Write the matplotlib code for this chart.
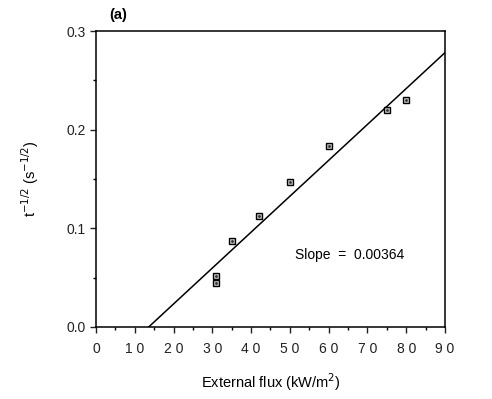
import matplotlib
matplotlib.use("Agg")
import matplotlib.pyplot as plt
import numpy as np
from matplotlib.ticker import MultipleLocator

plt.rcParams['font.family'] = ['Liberation Sans', 'DejaVu Sans']

flux = [31, 31, 35, 42, 50, 60, 75, 80]
tinv = [0.052, 0.045, 0.087, 0.112, 0.147, 0.183, 0.220, 0.230]
slope = 0.00364
x_intercept = 13.6
fit_x = [x_intercept, 90]
xticks = [0, 10, 20, 30, 40, 50, 60, 70, 80, 90]
yticks = [0.0, 0.1, 0.2, 0.3]

fig = plt.figure(figsize=(4.92, 3.99), dpi=100)
ax = fig.add_axes([0.195, 0.1805, 0.7095, 0.7418])

fit_y = [slope * (x - x_intercept) for x in fit_x]
ax.plot(fit_x, fit_y, color='black', lw=1.1)
ax.plot(flux, tinv, linestyle='none', marker='s', ms=5, mfc='#c8c8c8',
        mec='black', mew=1.0)
ax.plot(flux, tinv, linestyle='none', marker='.', ms=2, color='#333333')

ax.set_xlim(0, 90)
ax.set_ylim(0, 0.3)
ax.set_xticks(xticks)
ax.set_xticklabels([' '.join(str(t)) for t in xticks])
ax.set_yticks(yticks)
ax.set_yticklabels([f'{t:.1f}' for t in yticks])
ax.xaxis.set_minor_locator(MultipleLocator(5))
ax.yaxis.set_minor_locator(MultipleLocator(0.05))
ax.tick_params(which='major', direction='out', length=4, width=1, labelsize=10, colors='#222222')
ax.tick_params(which='minor', direction='out', length=2.5, width=1)
ax.tick_params(axis='x', pad=7)
for s in ax.spines.values():
    s.set_linewidth(1.1)

ax.set_xlabel('External flux (kW/m$^2$)', fontsize=10.5, labelpad=11)
ax.set_ylabel('t$^{-1/2}$ (s$^{-1/2}$)', fontsize=10.5, labelpad=18)
ax.text(65.5, 0.073, 'Slope  =  0.00364', ha='center', va='center', fontsize=10)
fig.text(0.222, 0.962, '(a)', fontsize=10.5, fontweight='bold', ha='left', va='center')

fig.savefig('out.png', dpi=100)
